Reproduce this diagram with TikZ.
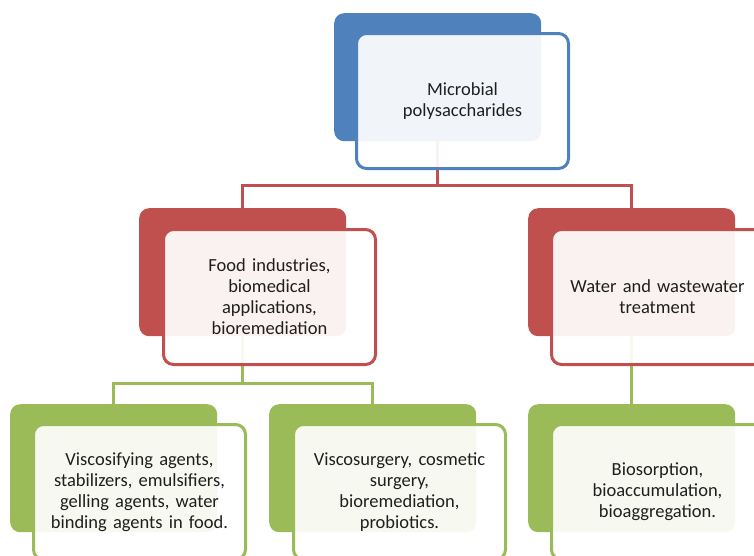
\documentclass[tikz,border=0pt]{standalone}
\usepackage{fontspec}
\setmainfont{Carlito}
\usetikzlibrary{positioning,backgrounds}
\definecolor{bluebk}{HTML}{4F81BD}
\definecolor{redbk}{HTML}{C0504D}
\definecolor{greenbk}{HTML}{9BBB59}
\tikzset{
  backbox/.style={fill=#1, rounded corners=10pt, minimum width=207pt,
    minimum height=128pt, anchor=north west, inner sep=0pt},
  frontbox/.style={draw=#1, line width=3pt, fill=white, fill opacity=0.92,
    text opacity=1, rounded corners=10pt, minimum width=212pt,
    minimum height=135pt, anchor=north west, align=center, text width=200pt,
    font=\fontsize{18.5}{21}\selectfont, text=black!88},
  link/.style={draw=#1, line width=3pt},
}

\begin{document}
\begin{tikzpicture}[x=1pt,y=-1pt]
  \useasboundingbox (0,0) rectangle (754,555);
  % top level
  \node[backbox=bluebk] (topbk) at (334,13) {};
  \node[frontbox=bluebk] (top) at (355,32) {Microbial\\polysaccharides};
  % second level
  \node[backbox=redbk] (foodbk) at (139,208) {};
  \node[frontbox=redbk] (food) at (162,228) {Food industries,\\biomedical\\applications,\\bioremediation};
  \node[backbox=redbk] (waterbk) at (528,208) {};
  \node[frontbox=redbk] (water) at (550,228) {Water and wastewater\\treatment};
  % third level
  \node[backbox=greenbk] (viscbk) at (10,404) {};
  \node[frontbox=greenbk] (visc) at (32,423) {Viscosifying agents,\\stabilizers, emulsifiers,\\gelling agents, water\\binding agents in food.};
  \node[backbox=greenbk] (surgbk) at (269,404) {};
  \node[frontbox=greenbk] (surg) at (292,423) {Viscosurgery, cosmetic\\surgery,\\bioremediation,\\probiotics.};
  \node[backbox=greenbk] (biobk) at (528,404) {};
  \node[frontbox=greenbk] (bio) at (550,423) {Biosorption,\\bioaccumulation,\\bioaggregation.};
  % connectors
  \begin{scope}[on background layer]
    \draw[link=redbk] (topbk.south) -- ++(0,44) coordinate (redjoin);
    \draw[link=redbk] (foodbk.north) |- (redjoin) -| (waterbk.north);
    \draw[link=greenbk] (foodbk.south) -- ++(0,47) coordinate (greenjoin);
    \draw[link=greenbk] (viscbk.north) |- (greenjoin) -| (surgbk.north);
    \draw[link=greenbk] (waterbk.south) -- (biobk.north);
  \end{scope}
\end{tikzpicture}
\end{document}
